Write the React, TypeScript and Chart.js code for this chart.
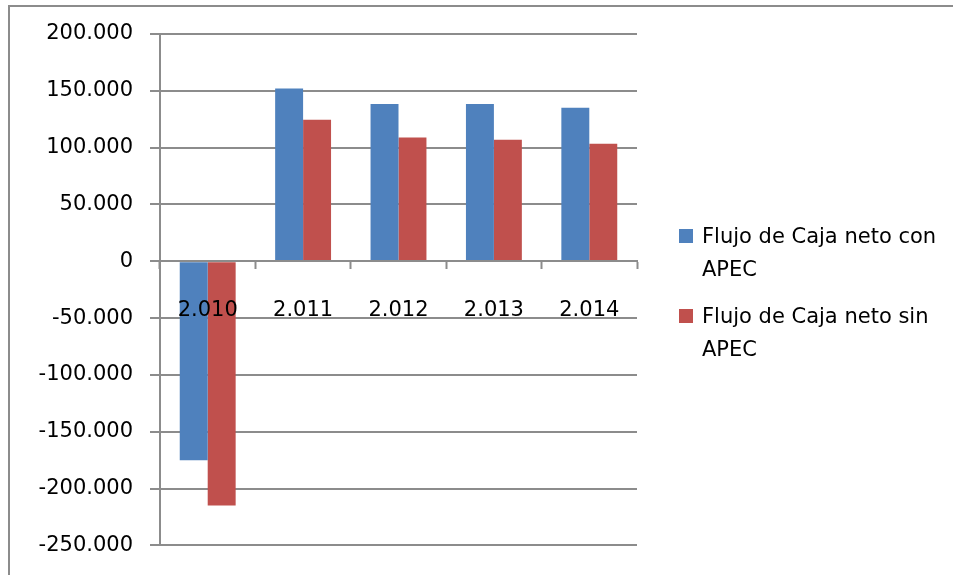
import React, { useEffect, useRef } from 'react';
import { Chart, registerables } from 'chart.js';

Chart.register(...registerables);

const categories = ['2.010', '2.011', '2.012', '2.013', '2.014'];
const conApec = [-175000, 152000, 138500, 138500, 135000];
const sinApec = [-215000, 124500, 109000, 107000, 103500];
const seriesNames = ['Flujo de Caja neto con APEC', 'Flujo de Caja neto sin APEC'];
const seriesColors = ['#4F81BD', '#C0504D'];
const yMin = -250000;
const yMax = 200000;
const yStep = 50000;

const FONT = '"DejaVu Sans", sans-serif';
const GRID = '#8c8c8c';

function fmt(v: number): string {
  const s = Math.abs(Math.round(v)).toString().replace(/\B(?=(\d{3})+(?!\d))/g, '.');
  return (v < 0 ? '-' : '') + s;
}

export default function App() {
  const ref = useRef<HTMLCanvasElement | null>(null);

  useEffect(() => {
    if (!ref.current) return;
    const chart = new Chart(ref.current, {
      type: 'bar',
      data: {
        labels: categories,
        datasets: [
          { label: seriesNames[0], data: conApec, backgroundColor: seriesColors[0], borderWidth: 0 },
          { label: seriesNames[1], data: sinApec, backgroundColor: seriesColors[1], borderWidth: 0 },
        ],
      },
      options: {
        animation: false,
        responsive: false,
        maintainAspectRatio: false,
        datasets: { bar: { categoryPercentage: 0.586, barPercentage: 1 } },
        layout: { padding: { left: 0, right: 316, top: 34, bottom: 25 } },
        plugins: { legend: { display: false }, tooltip: { enabled: false }, title: { display: false } },
        scales: {
          x: {
            position: { y: 0 } as any,
            grid: {
              offset: true,
              drawOnChartArea: false,
              drawTicks: true,
              tickLength: 7,
              tickColor: GRID,
              tickWidth: 2,
              z: 1,
            },
            border: { display: true, color: GRID, width: 2, z: 1 },
            ticks: {
              z: 2,
              color: '#000',
              font: { family: FONT, size: 21 },
              padding: 30,
              maxRotation: 0,
              autoSkip: false,
            },
          },
          y: {
            min: yMin,
            max: yMax,
            afterFit: (s: any) => { s.width = 160; },
            grid: {
              color: GRID,
              lineWidth: 2,
              drawTicks: true,
              tickLength: 10,
              tickColor: GRID,
            },
            border: { display: true, color: GRID, width: 2 },
            ticks: {
              stepSize: yStep,
              color: '#000',
              font: { family: FONT, size: 21 },
              padding: 17,
              callback: (v: any) => fmt(Number(v)),
            },
          },
        },
      },
    });
    return () => chart.destroy();
  }, []);

  return (
    <div style={{ position: 'fixed', left: 0, top: 0, width: 953, height: 575, overflow: 'hidden', background: '#fff' }}>
      <div style={{ position: 'absolute', left: 8, top: 5, width: 2000, height: 2000, borderTop: '2px solid #8c8c8c', borderLeft: '2px solid #8c8c8c' }} />
      <canvas ref={ref} width={953} height={575} style={{ position: 'absolute', left: 0, top: 0, width: 953, height: 575 }} />
      <div style={{ position: 'absolute', left: 679, top: 220, fontFamily: FONT, fontSize: 21, color: '#000' }}>
        {seriesNames.map((n, i) => (
          <div key={n} style={{ position: 'relative', height: 80 }}>
            <div style={{ position: 'absolute', left: 0, top: 9, width: 14, height: 14, background: seriesColors[i] }} />
            <div style={{ position: 'absolute', left: 23, top: 0, width: 245, lineHeight: '33px', whiteSpace: 'normal' }}>{n}</div>
          </div>
        ))}
      </div>
    </div>
  );
}
